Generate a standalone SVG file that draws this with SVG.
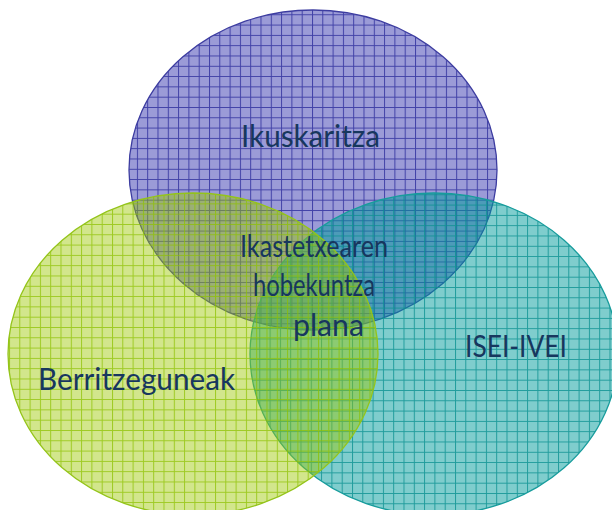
<svg xmlns="http://www.w3.org/2000/svg" width="612" height="510" viewBox="0 0 612 510">
  <style>
    .lbl { font-family: "Lato", "Open Sans", "Liberation Sans", sans-serif; font-size: 30px; fill: #17375E; text-anchor: middle; }
    .edge { fill: none; stroke-width: 1.3; }
  </style>
  <defs>
    <pattern id="gridP" patternUnits="userSpaceOnUse" x="3" y="4" width="10.3" height="10.3">
      <rect width="10.3" height="10.3" fill="#3737AF" fill-opacity="0.5"/>
      <path d="M0.5 0V10.3M0 0.5H10.3" stroke="#2A2A9B" stroke-opacity="0.8" stroke-width="1" fill="none"/>
    </pattern>
    <pattern id="gridG" patternUnits="userSpaceOnUse" x="9" y="7.7" width="10.3" height="10.3">
      <rect width="10.3" height="10.3" fill="#9BC800" fill-opacity="0.45"/>
      <path d="M0.5 0V10.3M0 0.5H10.3" stroke="#8CC000" stroke-opacity="0.75" stroke-width="1" fill="none"/>
    </pattern>
    <pattern id="gridT" patternUnits="userSpaceOnUse" x="1.8" y="8.9" width="10.3" height="10.3">
      <rect width="10.3" height="10.3" fill="#009C9C" fill-opacity="0.5"/>
      <path d="M0.5 0V10.3M0 0.5H10.3" stroke="#0A9090" stroke-opacity="0.8" stroke-width="1" fill="none"/>
    </pattern>
  </defs>

  <g id="node-ikuskaritza">
    <ellipse cx="313" cy="170" rx="184" ry="160" fill="url(#gridP)"/>
    <ellipse class="edge" cx="313" cy="170" rx="184" ry="160" stroke="#3C3CA0"/>
    <text class="lbl" x="310.5" y="147" textLength="139" lengthAdjust="spacingAndGlyphs">Ikuskaritza</text>
  </g>

  <g id="node-isei-ivei">
    <ellipse cx="434" cy="354" rx="184" ry="161" fill="url(#gridT)"/>
    <ellipse class="edge" cx="434" cy="354" rx="184" ry="161" stroke="#179C9C"/>
    <text class="lbl" x="516" y="357" textLength="102" lengthAdjust="spacingAndGlyphs">ISEI-IVEI</text>
  </g>

  <g id="node-berritzeguneak">
    <ellipse cx="193" cy="354" rx="185" ry="161" fill="url(#gridG)"/>
    <ellipse class="edge" cx="193" cy="354" rx="185" ry="161" stroke="#94C41A"/>
    <text class="lbl" x="136.5" y="390" textLength="197" lengthAdjust="spacingAndGlyphs">Berritzeguneak</text>
  </g>

  <g id="node-center">
    <text class="lbl" x="314" y="257" textLength="148" lengthAdjust="spacingAndGlyphs">Ikastetxearen</text>
    <text class="lbl" x="314" y="296" textLength="122" lengthAdjust="spacingAndGlyphs">hobekuntza</text>
    <text class="lbl" x="328.5" y="336" textLength="71" lengthAdjust="spacingAndGlyphs">plana</text>
  </g>
</svg>
